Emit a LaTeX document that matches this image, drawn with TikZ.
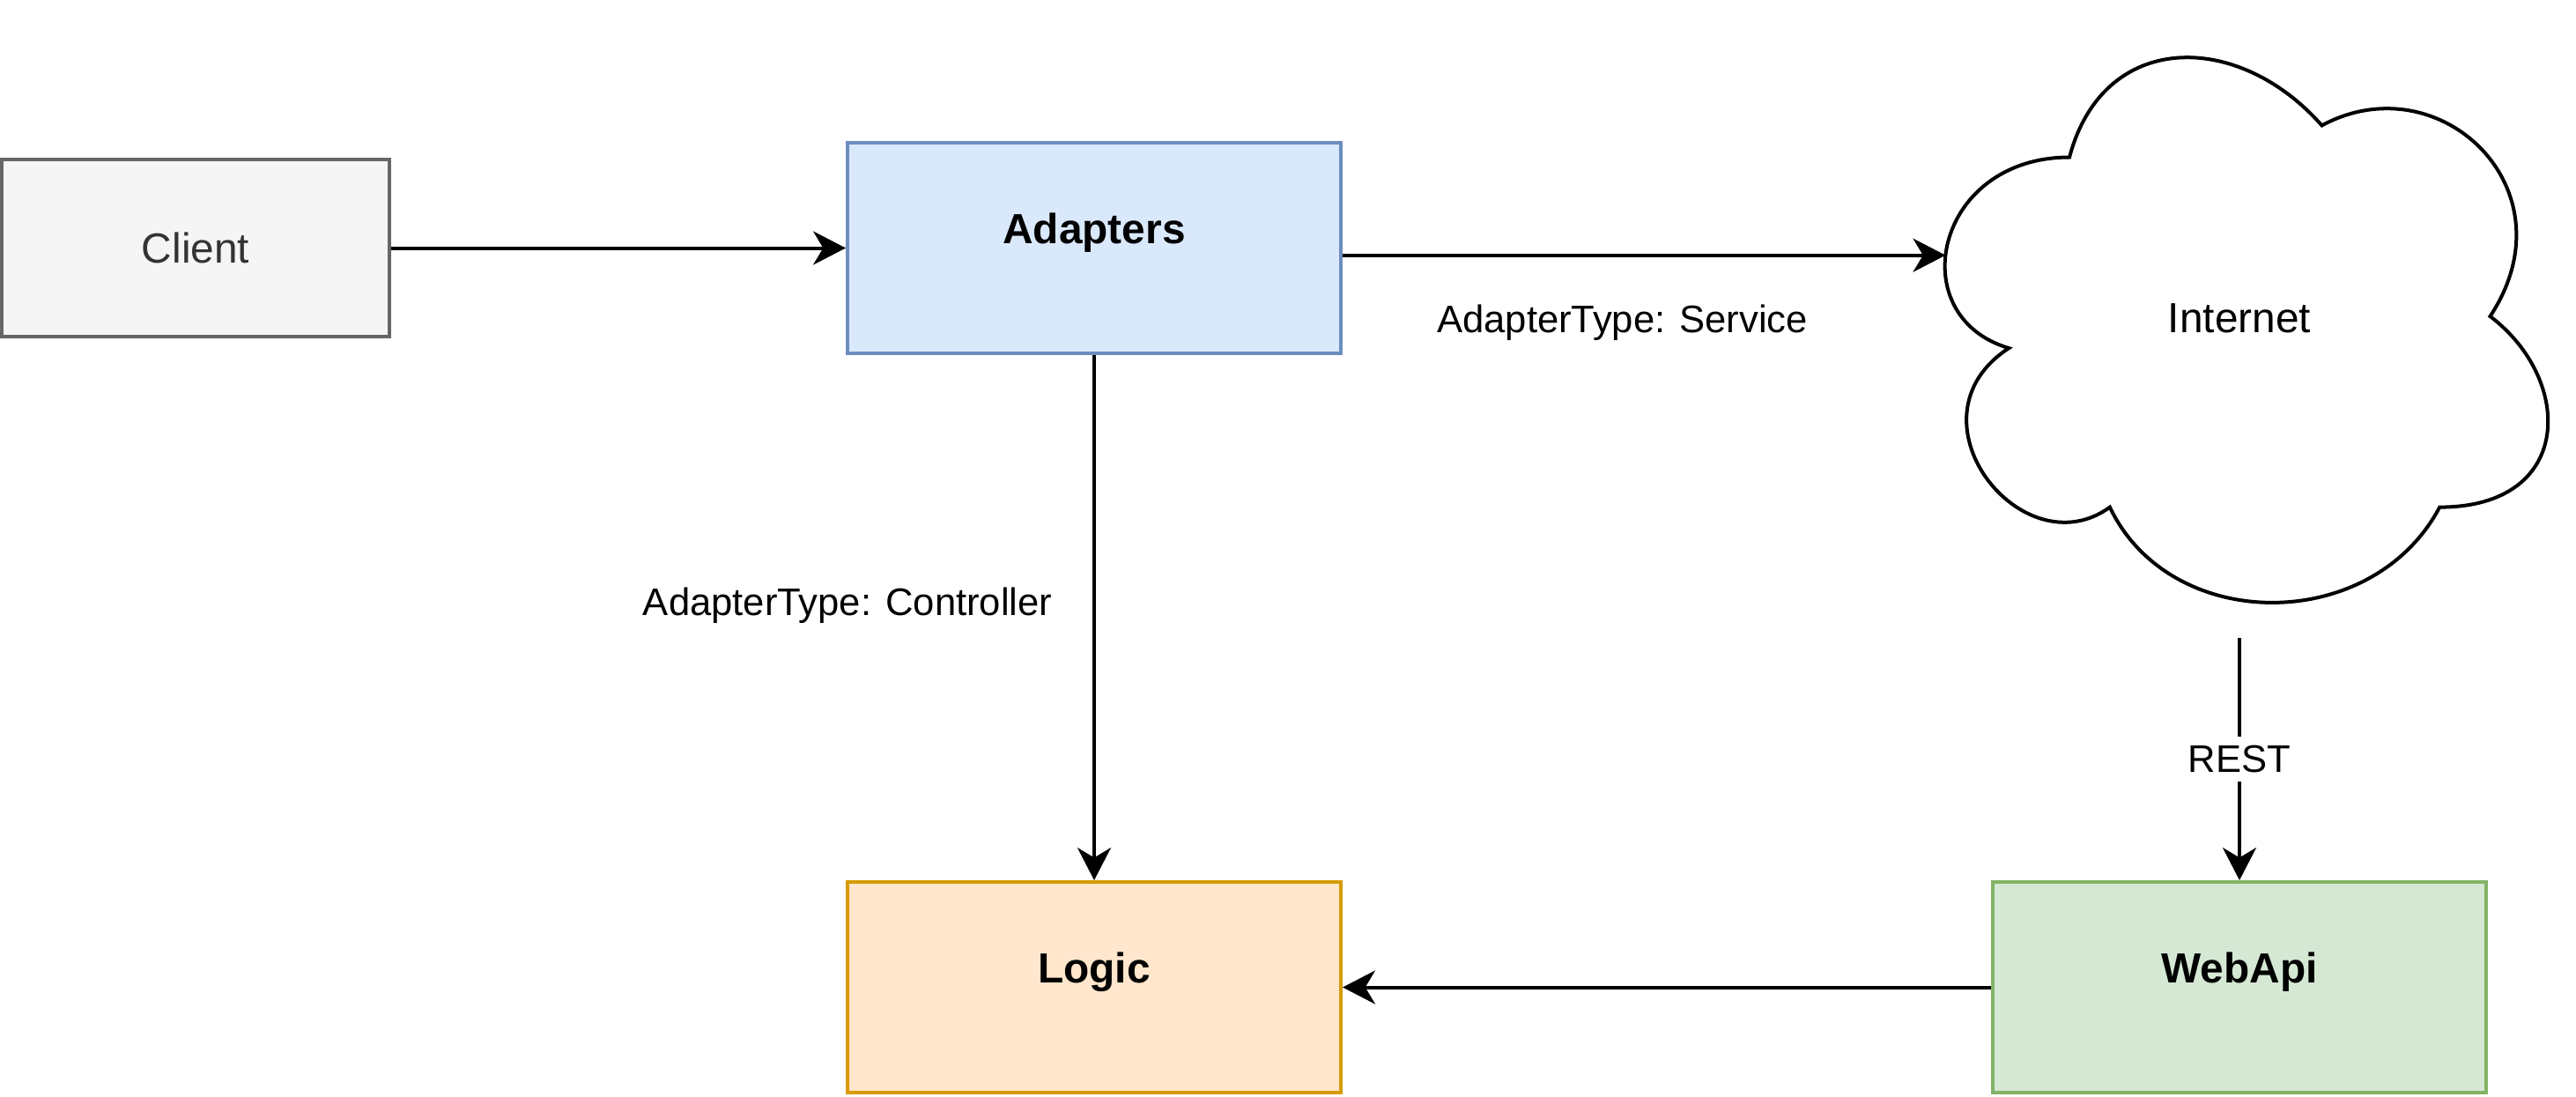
\documentclass[tikz,border=0pt]{standalone}
\usepackage{fontspec}
\setmainfont{Liberation Sans}
\usetikzlibrary{arrows.meta,positioning}

\definecolor{clientfill}{HTML}{F5F5F5}
\definecolor{clientline}{HTML}{666666}
\definecolor{clienttext}{HTML}{333333}
\definecolor{adapterfill}{HTML}{DAE8FC}
\definecolor{adapterline}{HTML}{6C8EBF}
\definecolor{logicfill}{HTML}{FFE6CC}
\definecolor{logicline}{HTML}{D79B00}
\definecolor{webfill}{HTML}{D5E8D4}
\definecolor{webline}{HTML}{82B366}

\tikzset{
  block/.style={draw,line width=1.14pt,inner sep=0pt,minimum width=5.6cm,
                text height=1.14cm,text depth=1.25cm,
                font=\fontsize{13.6}{16}\selectfont\bfseries},
  edgelabel/.style={font=\fontsize{12.4}{15}\selectfont},
}

\begin{document}
\begin{tikzpicture}[->,>={Stealth[length=10.5pt,width=10.8pt,inset=3.2pt]},
                    line width=1.14pt,on grid]

\useasboundingbox (0,0) rectangle (29.24,-12.44);

\node[draw=clientline,fill=clientfill,text=clienttext,inner sep=0pt,
      minimum width=4.4cm,minimum height=2.01cm,
      font=\fontsize{13.6}{16}\selectfont] (client) at (2.22,-2.815) {Client};
\node[block,draw=adapterline,fill=adapterfill] (adapters) [right=10.2cm of client] {Adapters};
\node[block,draw=logicline,fill=logicfill] (logic) [below=8.39cm of adapters] {Logic};
\node[block,draw=webline,fill=webfill] (webapi) [right=13cm of logic] {WebApi};
\node[minimum width=7.64cm,minimum height=7.22cm,inner sep=0pt,
      font=\fontsize{13.6}{16}\selectfont] (inet) [above=7.595cm of webapi] {Internet};

% cloud outline
\begin{scope}[shift={(inet.north west)},x=7.64cm,y=-7.22cm]
\draw[-] (0.25,0.25) .. controls (0.05,0.25) and (0,0.5) .. (0.16,0.55)
  .. controls (0,0.66) and (0.18,0.9) .. (0.31,0.8)
  .. controls (0.4,1) and (0.7,1) .. (0.8,0.8)
  .. controls (1,0.8) and (1,0.6) .. (0.875,0.5)
  .. controls (1,0.3) and (0.8,0.1) .. (0.625,0.2)
  .. controls (0.5,0.05) and (0.3,0.05) .. (0.25,0.25) -- cycle;
\coordinate (inet-w) at (0.066,0.404);
\end{scope}

\path
    (client) edge (adapters)
    (adapters.east |- inet-w) edge node[edgelabel,pos=0.464,yshift=-0.77cm]
        {AdapterType: Service} (inet-w)
    (adapters) edge node[edgelabel,pos=0.477,left=0.34cm]
        {AdapterType: Controller} (logic)
    (inet) edge node[edgelabel,fill=white,inner xsep=1pt,inner ysep=3pt]
        {REST} (webapi)
    (webapi) edge (logic)
;
\end{tikzpicture}
\end{document}
